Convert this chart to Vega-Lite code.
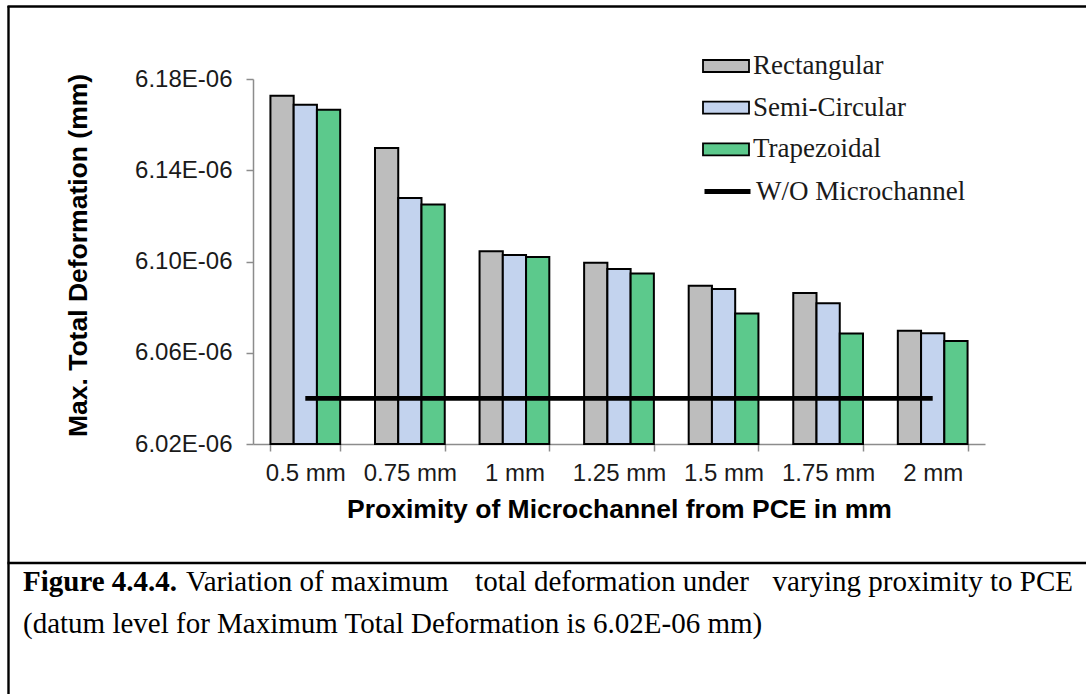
{
  "$schema": "https://vega.github.io/schema/vega-lite/v6.json",
  "width": 732,
  "height": 365,
  "autosize": {"type": "none"},
  "padding": {"left": 253, "top": 79, "right": 101, "bottom": 250},
  "background": "white",
  "config": {
    "view": {"stroke": null},
    "axis": {
      "labelFont": "Liberation Sans",
      "titleFont": "Liberation Sans",
      "labelColor": "#1a1a1a",
      "titleColor": "#000000",
      "domainColor": "#8c8c8c",
      "tickColor": "#8c8c8c",
      "domainWidth": 1.5,
      "tickWidth": 1.5,
      "grid": false
    }
  },
  "datasets": {
    "bars": [
      {"proximity": "0.5 mm", "series": "Rectangular", "deformation": 6.1727e-6},
      {"proximity": "0.5 mm", "series": "Semi-Circular", "deformation": 6.1687e-6},
      {"proximity": "0.5 mm", "series": "Trapezoidal", "deformation": 6.1665e-6},
      {"proximity": "0.75 mm", "series": "Rectangular", "deformation": 6.1497e-6},
      {"proximity": "0.75 mm", "series": "Semi-Circular", "deformation": 6.1278e-6},
      {"proximity": "0.75 mm", "series": "Trapezoidal", "deformation": 6.1250e-6},
      {"proximity": "1 mm", "series": "Rectangular", "deformation": 6.1045e-6},
      {"proximity": "1 mm", "series": "Semi-Circular", "deformation": 6.1029e-6},
      {"proximity": "1 mm", "series": "Trapezoidal", "deformation": 6.1020e-6},
      {"proximity": "1.25 mm", "series": "Rectangular", "deformation": 6.0994e-6},
      {"proximity": "1.25 mm", "series": "Semi-Circular", "deformation": 6.0967e-6},
      {"proximity": "1.25 mm", "series": "Trapezoidal", "deformation": 6.0947e-6},
      {"proximity": "1.5 mm", "series": "Rectangular", "deformation": 6.0894e-6},
      {"proximity": "1.5 mm", "series": "Semi-Circular", "deformation": 6.0880e-6},
      {"proximity": "1.5 mm", "series": "Trapezoidal", "deformation": 6.0772e-6},
      {"proximity": "1.75 mm", "series": "Rectangular", "deformation": 6.0862e-6},
      {"proximity": "1.75 mm", "series": "Semi-Circular", "deformation": 6.0817e-6},
      {"proximity": "1.75 mm", "series": "Trapezoidal", "deformation": 6.0684e-6},
      {"proximity": "2 mm", "series": "Rectangular", "deformation": 6.0696e-6},
      {"proximity": "2 mm", "series": "Semi-Circular", "deformation": 6.0686e-6},
      {"proximity": "2 mm", "series": "Trapezoidal", "deformation": 6.0651e-6}
    ],
    "baseline": [
      {"proximity": "0.5 mm", "deformation": 6.04e-6},
      {"proximity": "0.75 mm", "deformation": 6.04e-6},
      {"proximity": "1 mm", "deformation": 6.04e-6},
      {"proximity": "1.25 mm", "deformation": 6.04e-6},
      {"proximity": "1.5 mm", "deformation": 6.04e-6},
      {"proximity": "1.75 mm", "deformation": 6.04e-6},
      {"proximity": "2 mm", "deformation": 6.04e-6}
    ]
  },
  "layer": [
    {
      "data": {"name": "bars"},
      "mark": {"type": "bar", "stroke": "#000000", "strokeWidth": 2},
      "encoding": {
        "x": {
          "field": "proximity",
          "type": "nominal",
          "sort": ["0.5 mm", "0.75 mm", "1 mm", "1.25 mm", "1.5 mm", "1.75 mm", "2 mm"],
          "scale": {"paddingInner": 0.333, "paddingOuter": 0.1667},
          "axis": {
            "title": "Proximity of Microchannel from PCE in mm",
            "labelAngle": 0,
            "labelFontSize": 24,
            "titleFontSize": 26.5,
            "titleFontWeight": "bold",
            "tickBand": "extent",
            "tickSize": 7,
            "labelPadding": 10,
            "titlePadding": 11
          }
        },
        "xOffset": {
          "field": "series",
          "type": "nominal",
          "sort": ["Rectangular", "Semi-Circular", "Trapezoidal"],
          "scale": {"paddingInner": 0, "paddingOuter": 0}
        },
        "y": {
          "field": "deformation",
          "type": "quantitative",
          "stack": null,
          "scale": {"domain": [6.02e-6, 6.18e-6], "nice": false, "zero": false},
          "axis": {
            "title": "Max. Total Deformation (mm)",
            "values": [6.02e-6, 6.06e-6, 6.10e-6, 6.14e-6, 6.18e-6],
            "labelExpr": "format(datum.value * 1e6, '.2f') + 'E-06'",
            "labelFontSize": 24,
            "titleFontSize": 26.5,
            "titleFontWeight": "bold",
            "tickSize": 7,
            "labelPadding": 14,
            "titleX": -161,
            "titleY": 176
          }
        },
        "y2": {"datum": 6.02e-6},
        "fill": {
          "field": "series",
          "type": "nominal",
          "scale": {
            "domain": ["Rectangular", "Semi-Circular", "Trapezoidal"],
            "range": ["#bdbdbd", "#c3d3ee", "#5cc98c"]
          },
          "legend": {
            "title": null,
            "orient": "none",
            "legendX": 449,
            "legendY": -37,
            "padding": 0,
            "symbolType": "M-1,-0.26H1V0.26H-1Z",
            "symbolSize": 2116,
            "symbolStrokeColor": "#000000",
            "symbolStrokeWidth": 1.8,
            "symbolOpacity": 1,
            "labelFont": "Liberation Serif",
            "labelFontSize": 27,
            "labelColor": "#1a1a1a",
            "labelOffset": 3,
            "labelLimit": 320,
            "rowPadding": 4.7
          }
        }
      }
    },
    {
      "data": {"name": "baseline"},
      "mark": {"type": "line", "strokeWidth": 4.8, "strokeCap": "butt"},
      "encoding": {
        "x": {"field": "proximity", "type": "nominal", "sort": ["0.5 mm", "0.75 mm", "1 mm", "1.25 mm", "1.5 mm", "1.75 mm", "2 mm"]},
        "y": {"field": "deformation", "type": "quantitative"},
        "stroke": {
          "datum": "W/O Microchannel",
          "scale": {"range": ["#000000"]},
          "legend": {
            "title": null,
            "orient": "none",
            "legendX": 449,
            "legendY": 87,
            "padding": 0,
            "symbolType": "stroke",
            "symbolSize": 2116,
            "symbolStrokeWidth": 5,
            "labelFont": "Liberation Serif",
            "labelFontSize": 27,
            "labelColor": "#1a1a1a",
            "labelOffset": 3,
            "labelLimit": 320
          }
        }
      }
    },
    {
      "data": {"values": [{}]},
      "mark": {"type": "rule", "color": "#000000", "strokeWidth": 2.4},
      "encoding": {
        "x": {"value": -244.5},
        "y": {"value": -73},
        "y2": {"value": 615}
      }
    },
    {
      "data": {"values": [{}]},
      "mark": {"type": "rule", "color": "#000000", "strokeWidth": 2.4},
      "encoding": {
        "x": {"value": -245.5},
        "x2": {"value": 833},
        "y": {"value": -72.5}
      }
    },
    {
      "data": {"values": [{}]},
      "mark": {"type": "rule", "color": "#000000", "strokeWidth": 2.4},
      "encoding": {
        "x": {"value": -245.5},
        "x2": {"value": 833},
        "y": {"value": 484}
      }
    },
    {
      "data": {"values": [{}]},
      "mark": {"type": "text", "text": "Figure 4.4.4.", "font": "Liberation Serif", "fontSize": 29, "fontWeight": "bold", "align": "left", "baseline": "alphabetic", "color": "#000000"},
      "encoding": {"x": {"value": -230}, "y": {"value": 512}}
    },
    {
      "data": {"values": [{}]},
      "mark": {"type": "text", "text": "Variation of maximum", "font": "Liberation Serif", "fontSize": 29, "align": "left", "baseline": "alphabetic", "color": "#000000"},
      "encoding": {"x": {"value": -67}, "y": {"value": 512}}
    },
    {
      "data": {"values": [{}]},
      "mark": {"type": "text", "text": "total deformation under", "font": "Liberation Serif", "fontSize": 29, "align": "center", "baseline": "alphabetic", "color": "#000000"},
      "encoding": {"x": {"value": 359}, "y": {"value": 512}}
    },
    {
      "data": {"values": [{}]},
      "mark": {"type": "text", "text": "varying proximity to PCE", "font": "Liberation Serif", "fontSize": 29, "align": "right", "baseline": "alphabetic", "color": "#000000"},
      "encoding": {"x": {"value": 820}, "y": {"value": 512}}
    },
    {
      "data": {"values": [{}]},
      "mark": {"type": "text", "text": "(datum level for Maximum Total Deformation is 6.02E-06 mm)", "font": "Liberation Serif", "fontSize": 29, "align": "left", "baseline": "alphabetic", "color": "#000000"},
      "encoding": {"x": {"value": -230}, "y": {"value": 554}}
    }
  ],
  "resolve": {"scale": {"x": "shared", "y": "shared"}}
}
